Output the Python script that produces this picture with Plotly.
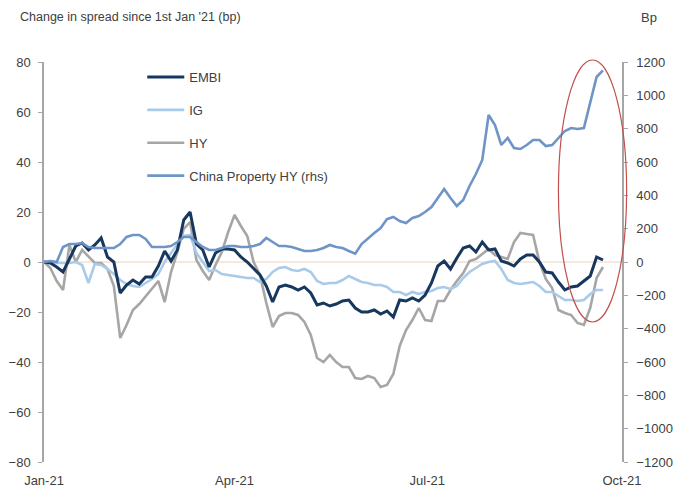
import plotly.graph_objects as go
import pandas as pd

# Common 3-day date grid (1 Jan 2021 .. 22 Sep 2021)
dates = pd.date_range("2021-01-01", "2021-09-22", freq="3D")

embi = [0, -0.4, -2, -4, 1.2, 6.4, 7.6, 4.8, 6.8, 9.6,
        2, 0, -12.4, -9.2, -7.2, -8.8, -6, -6, -1.6, 4.4,
        0.4, 4.8, 16.8, 20, 7.2, 4.8, -2, 3.6, 5.2, 5.2,
        4.8, 2, 0, -2.4, -5.2, -9.6, -16, -10, -9.2, -10,
        -11.2, -10, -12.4, -17.2, -16.4, -17.6, -16.8, -15.6, -15.2, -18.4,
        -20, -20, -19.2, -20.8, -19.6, -22, -15.2, -15.6, -14.4, -15.6,
        -13.2, -8.4, -1.6, 0.4, -2.8, 1.6, 5.6, 6.4, 4, 8,
        4.8, 5.2, 0.4, -0.4, -1.6, 1.2, 2.8, 2.8, 0, -4,
        -4.4, -8, -11.2, -10, -9.6, -7.6, -5.6, 2, 0.8]

ig = [0, 0.4, -0.4, -0.4, -0.4, 0, -1.2, -8.4, -0.8, -1.2,
      -2.8, -4.8, -7.2, -8.8, -9.6, -10, -8.4, -6.8, -4.8, 0,
      3.6, 6.8, 10.4, 10.8, 3.6, 0, -3.6, -3.2, -4.8, -5.2,
      -5.6, -6, -6.4, -6.4, -8, -6.8, -4, -2.4, -2, -3.2,
      -3.6, -2.8, -4, -7.6, -8.8, -8.4, -8.4, -7.2, -5.6, -6.8,
      -8, -8.4, -9.2, -9.2, -10, -12, -12, -13.2, -12, -12.8,
      -12, -11.6, -10.4, -10, -10.8, -9.6, -6.4, -4, -2.4, -0.8,
      0, 0.4, -2.8, -7.2, -8.4, -8.8, -8.4, -8, -9.6, -12,
      -12, -13.6, -15.2, -15.2, -15.6, -15.2, -12.8, -11.2, -11.2]

hy = [0, -2.4, -7.6, -11.2, 6.8, 0, 4.8, 2.4, -0.4, -0.4,
      -2.8, -9.6, -30.4, -25.2, -19.2, -16.8, -13.6, -10.8, -7.6, -16,
      -4, 4, 13.2, 16, 0.8, -3.6, -7.2, -1.2, 4, 12,
      18.8, 14.4, 10.4, 0, -5.2, -16.4, -26, -21.6, -20.4, -20.4,
      -21.2, -24, -29.2, -38.4, -40, -37.2, -40, -42, -42, -46.4,
      -46.8, -45.6, -46.4, -50, -49.2, -44.8, -33.6, -27.2, -23.2, -18.4,
      -23.2, -23.6, -15.6, -15.6, -11.2, -7.6, -4.4, 0.4, 1.2, 3.2,
      5.2, 2.8, 2, 1.2, 8, 11.6, 11.2, 10.8, 0, -6.8,
      -10.4, -19.2, -20.4, -21.2, -24.4, -25.2, -18.4, -6.4, -2]

china_hy = [0, 6, 0, 90, 108, 108, 114, 90, 84, 84,
            84, 84, 108, 150, 162, 162, 138, 90, 90, 90,
            96, 120, 150, 150, 120, 90, 72, 72, 84, 96,
            96, 90, 90, 96, 108, 144, 120, 96, 96, 90,
            78, 66, 66, 72, 84, 102, 90, 84, 66, 50,
            108, 144, 174, 204, 258, 270, 246, 234, 264, 276,
            300, 330, 384, 438, 384, 336, 372, 456, 528, 612,
            882, 822, 702, 744, 684, 678, 702, 732, 732, 696,
            702, 744, 786, 804, 798, 804, 954, 1110, 1150]

series_names = ["EMBI", "IG", "HY", "China Property HY (rhs)"]
series_colors = ["#17375e", "#a9cbea", "#a6a6a6", "#6f95c6"]
x_tickvals = ["2021-01-01", "2021-04-01", "2021-07-01", "2021-10-01"]
x_ticktext = ["Jan-21", "Apr-21", "Jul-21", "Oct-21"]

font_family = "Liberation Sans, Arial, sans-serif"
text_color = "#404040"
axis_color = "#a6a6a6"

fig = go.Figure()
values = [embi, ig, hy]
draw_order = [2, 1, 0]
for i in draw_order:
    fig.add_trace(go.Scatter(
        x=dates, y=values[i], name=series_names[i], mode="lines",
        line=dict(color=series_colors[i], width=3 if i == 0 else 2.6),
        legendgroup=series_names[i], legendrank=i + 1, yaxis="y"))
fig.add_trace(go.Scatter(
    x=dates, y=china_hy, name=series_names[3], mode="lines",
    line=dict(color=series_colors[3], width=2.6),
    legendgroup=series_names[3], legendrank=4, yaxis="y2"))

fig.update_layout(
    width=676, height=492,
    margin=dict(l=44, r=54, t=62, b=30),
    paper_bgcolor="white", plot_bgcolor="white",
    font=dict(family=font_family, size=13, color=text_color),
    showlegend=True,
    legend=dict(x=0.17, y=1.0, xanchor="left", yanchor="top",
                bgcolor="rgba(0,0,0,0)", font=dict(size=13, color=text_color),
                tracegroupgap=13, itemwidth=37, traceorder="grouped"),
    xaxis=dict(range=["2021-01-01", "2021-10-01"], tickvals=x_tickvals,
               ticktext=x_ticktext, showgrid=False, zeroline=False,
               showline=False, ticks="outside", ticklen=6,
               tickcolor="rgba(0,0,0,0)", automargin=False,
               tickfont=dict(size=13, color=text_color)),
    yaxis=dict(range=[-80, 80], dtick=20, showgrid=False, zeroline=False,
               showline=True, linecolor=axis_color, linewidth=1.5,
               ticks="outside", ticklen=4, tickcolor=axis_color,
               ticklabelstandoff=5, automargin=False,
               tickfont=dict(size=13, color=text_color)),
    yaxis2=dict(range=[-1200, 1200], dtick=200, overlaying="y", side="right",
                showgrid=False, zeroline=False, showline=True,
                linecolor=axis_color, linewidth=1.5, ticks="outside",
                ticklen=4, tickcolor=axis_color, ticklabelstandoff=6,
                automargin=False,
                tickfont=dict(size=13, color=text_color)),
    shapes=[
        dict(type="line", xref="paper", yref="y", x0=0, x1=1, y0=0, y1=0,
             line=dict(color="#ecd3bb", width=1), layer="below"),
        dict(type="circle", xref="paper", yref="paper",
             x0=0.89, x1=1.008, y0=0.35, y1=1.005,
             line=dict(color="#c0504d", width=1.2)),
    ],
    annotations=[
        dict(text="Change in spread since 1st Jan '21 (bp)", xref="paper",
             yref="paper", x=-0.045, y=1.112, xanchor="left", yanchor="middle",
             showarrow=False, font=dict(size=12.5, color=text_color)),
        dict(text="Bp", xref="paper", yref="paper", x=1.03, y=1.112,
             xanchor="left", yanchor="middle", showarrow=False,
             font=dict(size=13, color=text_color)),
    ],
)

fig.write_html("out.html")
